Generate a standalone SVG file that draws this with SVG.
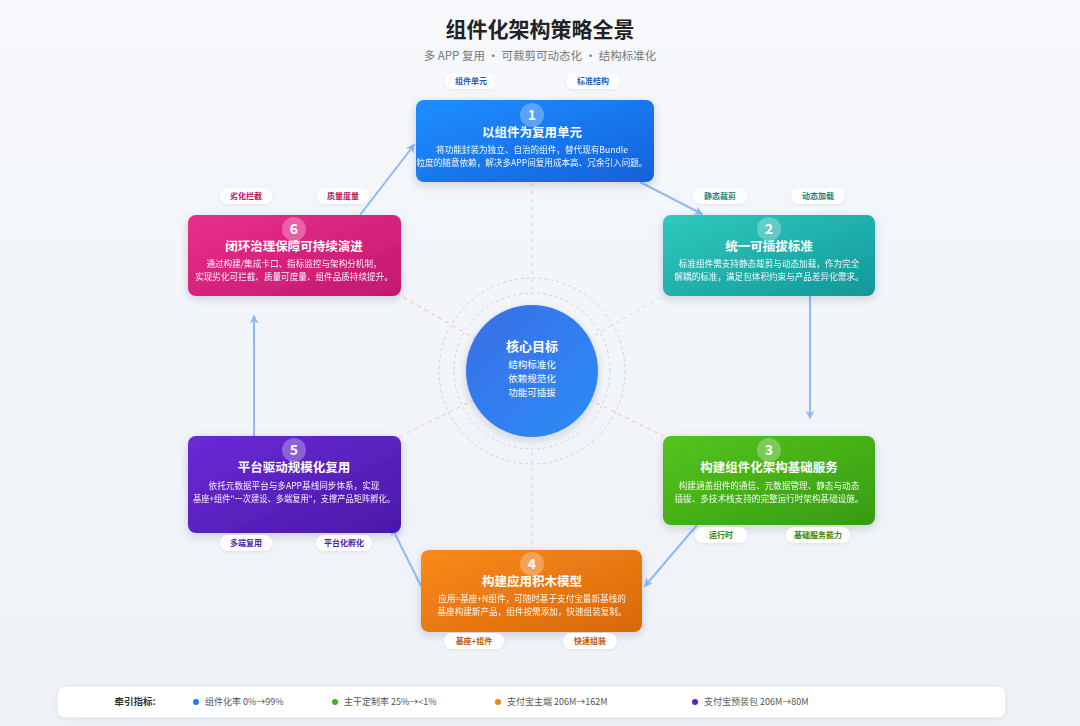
<svg xmlns="http://www.w3.org/2000/svg" width="1080" height="726" viewBox="0 0 1080 726">
<defs>
<style>
text{font-family:"Noto Sans CJK SC","Noto Sans",sans-serif;}
.title{font-size:21px;font-weight:700;fill:#222;text-anchor:middle;}
.sub{font-size:11.5px;fill:#777;text-anchor:middle;}
.num{font-size:14px;font-weight:700;fill:#fff;text-anchor:middle;}
.nt{font-size:12.5px;font-weight:700;fill:#fff;text-anchor:middle;}
.nd{font-size:8.6px;fill:#fff;text-anchor:middle;opacity:0.95;}
.pill{fill:#fff;}
.pt{font-size:8px;font-weight:700;text-anchor:middle;}
.conn{stroke:#8dbbf3;stroke-width:2;fill:none;marker-end:url(#arr);}
.dash{stroke-width:1;fill:none;stroke-dasharray:4 4;}
.ring{stroke:#cdd3dc;stroke-width:1;fill:none;stroke-dasharray:3 3;}
.ct{font-size:13px;font-weight:700;fill:#fff;text-anchor:middle;}
.cd{font-size:9.5px;fill:#fff;text-anchor:middle;}
.mt{font-size:9px;fill:#555;}
</style>
<linearGradient id="bg" x1="0" y1="0" x2="0" y2="1"><stop offset="0" stop-color="#f6f8fb"/><stop offset="1" stop-color="#eef2f7"/></linearGradient>
<linearGradient id="g1" x1="0" y1="0" x2="1" y2="1"><stop offset="0" stop-color="#1e8fff"/><stop offset="1" stop-color="#1461dc"/></linearGradient>
<linearGradient id="g2" x1="0" y1="0" x2="1" y2="1"><stop offset="0" stop-color="#2fcabe"/><stop offset="1" stop-color="#12979a"/></linearGradient>
<linearGradient id="g3" x1="0" y1="0" x2="1" y2="1"><stop offset="0" stop-color="#54c41e"/><stop offset="1" stop-color="#379c10"/></linearGradient>
<linearGradient id="g4" x1="0" y1="0" x2="1" y2="1"><stop offset="0" stop-color="#fa8a1a"/><stop offset="1" stop-color="#d8680a"/></linearGradient>
<linearGradient id="g5" x1="0" y1="0" x2="1" y2="1"><stop offset="0" stop-color="#6a2ad6"/><stop offset="1" stop-color="#4b18a8"/></linearGradient>
<linearGradient id="g6" x1="0" y1="0" x2="1" y2="1"><stop offset="0" stop-color="#ea2f8c"/><stop offset="1" stop-color="#c2186f"/></linearGradient>
<linearGradient id="gc" x1="0" y1="0" x2="1" y2="1"><stop offset="0" stop-color="#3a6fe6"/><stop offset="1" stop-color="#2a8cf6"/></linearGradient>
<filter id="sh" x="-20%" y="-20%" width="140%" height="150%"><feDropShadow dx="0" dy="3" stdDeviation="4" flood-color="#1c2a44" flood-opacity="0.18"/></filter>
<filter id="psh" x="-20%" y="-40%" width="140%" height="180%"><feDropShadow dx="0" dy="1" stdDeviation="1.5" flood-color="#1c2a44" flood-opacity="0.08"/></filter>
<marker id="arr" viewBox="0 0 12 12" refX="10" refY="6" markerWidth="9" markerHeight="9" markerUnits="userSpaceOnUse" orient="auto"><path d="M0,0 L12,6 L0,12 L3.5,6 z" fill="#8dbbf3"/></marker>
</defs>
<rect width="1080" height="726" fill="url(#bg)"/>
<text class="title" x="540" y="37">组件化架构策略全景</text>
<text class="sub" x="540" y="60">多 APP 复用 · 可裁剪可动态化 · 结构标准化</text>

<g id="center-decor">
<line class="dash" stroke="#d3d9e2" x1="532" y1="183" x2="532" y2="290"/>
<line class="dash" stroke="#d3d9e2" x1="532" y1="452" x2="532" y2="550"/>
<line class="dash" stroke="#f0b6c4" x1="532" y1="371" x2="401" y2="296"/>
<line class="dash" stroke="#d3d9e2" x1="532" y1="371" x2="663" y2="296"/>
<line class="dash" stroke="#e6c3d4" x1="532" y1="371" x2="401" y2="436"/>
<line class="dash" stroke="#f0b6c4" x1="532" y1="371" x2="663" y2="436"/>
<circle class="ring" cx="532" cy="371" r="93"/>
<circle class="ring" cx="532" cy="371" r="78"/>
</g>

<g id="connectors">
<line class="conn" x1="640" y1="182" x2="702" y2="214"/>
<line class="conn" x1="810" y1="296" x2="810" y2="418"/>
<line class="conn" x1="697" y1="525" x2="645" y2="586"/>
<line class="conn" x1="421" y1="586" x2="392" y2="528"/>
<line class="conn" x1="254" y1="436" x2="254" y2="316"/>
<line class="conn" x1="360" y1="215" x2="414" y2="145"/>
</g>

<g id="core">
<circle cx="532" cy="371" r="66" fill="url(#gc)" filter="url(#sh)"/>
<text class="ct" x="532" y="351">核心目标</text>
<text class="cd" x="532" y="368">结构标准化</text>
<text class="cd" x="532" y="382">依赖规范化</text>
<text class="cd" x="532" y="396">功能可插拔</text>
</g>

<g id="node1">
<rect x="416" y="100" width="238" height="82" rx="8" fill="url(#g1)" filter="url(#sh)"/>
<circle cx="532" cy="115" r="12" fill="#fff" fill-opacity="0.28"/>
<text class="num" x="532" y="120">1</text>
<text class="nt" x="532" y="137">以组件为复用单元</text>
<text class="nd" x="532" y="153">将功能封装为独立、自治的组件，替代现有Bundle</text>
<text class="nd" x="532" y="166">粒度的随意依赖，解决多APP间复用成本高、冗余引入问题。</text>
<rect class="pill" x="445" y="73" width="52" height="16" rx="8" filter="url(#psh)"/>
<text class="pt" x="471" y="84" fill="#1a5fb8">组件单元</text>
<rect class="pill" x="566" y="73" width="54" height="16" rx="8" filter="url(#psh)"/>
<text class="pt" x="593" y="84" fill="#1a5fb8">标准结构</text>
</g>

<g id="node2">
<rect x="663" y="215" width="212" height="81" rx="8" fill="url(#g2)" filter="url(#sh)"/>
<circle cx="769" cy="229" r="12" fill="#fff" fill-opacity="0.28"/>
<text class="num" x="769" y="234">2</text>
<text class="nt" x="769" y="251">统一可插拔标准</text>
<text class="nd" x="769" y="267">标准组件需支持静态裁剪与动态加载，作为完全</text>
<text class="nd" x="769" y="280">解耦的标准，满足包体积约束与产品差异化需求。</text>
<rect class="pill" x="693" y="188" width="54" height="16" rx="8" filter="url(#psh)"/>
<text class="pt" x="720" y="199" fill="#0f8a84">静态裁剪</text>
<rect class="pill" x="791" y="188" width="54" height="16" rx="8" filter="url(#psh)"/>
<text class="pt" x="818" y="199" fill="#0f8a84">动态加载</text>
</g>

<g id="node3">
<rect x="663" y="436" width="212" height="89" rx="8" fill="url(#g3)" filter="url(#sh)"/>
<circle cx="769" cy="450" r="12" fill="#fff" fill-opacity="0.28"/>
<text class="num" x="769" y="455">3</text>
<text class="nt" x="769" y="472">构建组件化架构基础服务</text>
<text class="nd" x="769" y="489">构建涵盖组件的通信、元数据管理、静态与动态</text>
<text class="nd" x="769" y="502">插拔、多技术栈支持的完整运行时架构基础设施。</text>
<rect class="pill" x="695" y="527" width="52" height="16" rx="8" filter="url(#psh)"/>
<text class="pt" x="721" y="538" fill="#2f8a0c">运行时</text>
<rect class="pill" x="786" y="527" width="64" height="16" rx="8" filter="url(#psh)"/>
<text class="pt" x="818" y="538" fill="#2f8a0c">基础服务能力</text>
</g>

<g id="node4">
<rect x="421" y="550" width="221" height="82" rx="8" fill="url(#g4)" filter="url(#sh)"/>
<circle cx="532" cy="564" r="12" fill="#fff" fill-opacity="0.28"/>
<text class="num" x="532" y="569">4</text>
<text class="nt" x="532" y="586">构建应用积木模型</text>
<text class="nd" x="532" y="602">应用=基座+N组件，可随时基于支付宝最新基线的</text>
<text class="nd" x="532" y="615">基座构建新产品，组件按需添加，快速组装复制。</text>
<rect class="pill" x="444" y="633" width="60" height="16" rx="8" filter="url(#psh)"/>
<text class="pt" x="474" y="644" fill="#b85a08">基座+组件</text>
<rect class="pill" x="563" y="633" width="54" height="16" rx="8" filter="url(#psh)"/>
<text class="pt" x="590" y="644" fill="#b85a08">快速组装</text>
</g>

<g id="node5">
<rect x="188" y="436" width="213" height="97" rx="8" fill="url(#g5)" filter="url(#sh)"/>
<circle cx="294" cy="450" r="12" fill="#fff" fill-opacity="0.28"/>
<text class="num" x="294" y="455">5</text>
<text class="nt" x="294" y="472">平台驱动规模化复用</text>
<text class="nd" x="294" y="489">依托元数据平台与多APP基线同步体系，实现</text>
<text class="nd" x="294" y="502" textLength="202" lengthAdjust="spacingAndGlyphs">基座+组件"一次建设、多端复用"，支撑产品矩阵孵化。</text>
<rect class="pill" x="220" y="535" width="52" height="16" rx="8" filter="url(#psh)"/>
<text class="pt" x="246" y="546" fill="#4a1ea0">多端复用</text>
<rect class="pill" x="316" y="535" width="56" height="16" rx="8" filter="url(#psh)"/>
<text class="pt" x="344" y="546" fill="#4a1ea0">平台化孵化</text>
</g>

<g id="node6">
<rect x="188" y="215" width="213" height="81" rx="8" fill="url(#g6)" filter="url(#sh)"/>
<circle cx="294" cy="229" r="12" fill="#fff" fill-opacity="0.28"/>
<text class="num" x="294" y="234">6</text>
<text class="nt" x="294" y="251">闭环治理保障可持续演进</text>
<text class="nd" x="294" y="267">通过构建/集成卡口、指标监控与架构分机制，</text>
<text class="nd" x="294" y="280">实现劣化可拦截、质量可度量、组件品质持续提升。</text>
<rect class="pill" x="220" y="188" width="52" height="16" rx="8" filter="url(#psh)"/>
<text class="pt" x="246" y="199" fill="#b8155f">劣化拦截</text>
<rect class="pill" x="317" y="188" width="52" height="16" rx="8" filter="url(#psh)"/>
<text class="pt" x="343" y="199" fill="#b8155f">质量度量</text>
</g>

<g id="metrics">
<rect x="57" y="686" width="949" height="32" rx="8" fill="#fff" stroke="#e1e5ea" stroke-width="1" filter="url(#psh)"/>
<text x="135" y="705" style="font-size:9.5px;font-weight:700;fill:#333;" text-anchor="middle">牵引指标:</text>
<circle cx="196" cy="702" r="3" fill="#1a7ff0"/>
<text class="mt" x="205" y="705">组件化率 0%→99%</text>
<circle cx="335" cy="702" r="3" fill="#46b31a"/>
<text class="mt" x="344" y="705">主干定制率 25%→&lt;1%</text>
<circle cx="498" cy="702" r="3" fill="#f0861a"/>
<text class="mt" x="507" y="705">支付宝主端 206M→162M</text>
<circle cx="695" cy="702" r="3" fill="#5a22c0"/>
<text class="mt" x="704" y="705">支付宝预装包 206M→80M</text>
</g>
</svg>
